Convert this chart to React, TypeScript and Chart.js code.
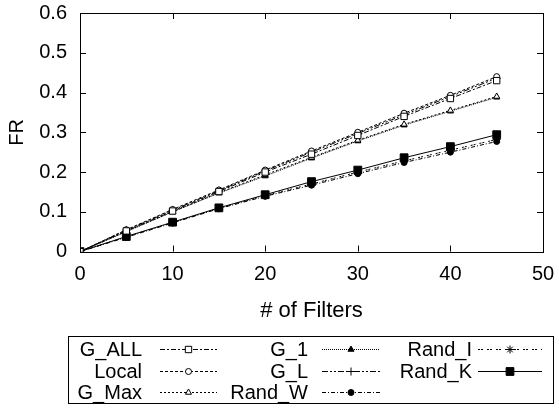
import React, { useEffect, useRef } from "react";
import { Chart, registerables } from "chart.js";
import { drawPoint } from "chart.js/helpers";

Chart.register(...registerables);

const FILTERS = [0, 5, 10, 15, 20, 25, 30, 35, 40, 45];
const G_ALL = [0, 0.052, 0.102, 0.151, 0.2, 0.245, 0.292, 0.34, 0.385, 0.43];
const LOCAL = [0, 0.055, 0.106, 0.155, 0.205, 0.253, 0.3, 0.348, 0.393, 0.44];
const G_MAX = [0, 0.051, 0.1, 0.148, 0.193, 0.237, 0.28, 0.32, 0.355, 0.39];
const G_1 = [0, 0.05, 0.1, 0.147, 0.19, 0.235, 0.278, 0.318, 0.353, 0.388];
const G_L = [0, 0.054, 0.104, 0.153, 0.203, 0.25, 0.297, 0.344, 0.39, 0.436];
const RAND_W = [0, 0.036, 0.072, 0.108, 0.139, 0.167, 0.196, 0.224, 0.25, 0.277];
const RAND_I = [0, 0.037, 0.073, 0.109, 0.141, 0.17, 0.2, 0.228, 0.255, 0.282];
const RAND_K = [0, 0.038, 0.074, 0.11, 0.143, 0.176, 0.205, 0.236, 0.264, 0.294];

const X_TICKS = [0, 10, 20, 30, 40, 50];
const Y_TICKS = [0, 0.1, 0.2, 0.3, 0.4, 0.5, 0.6];

const FONT = "'Liberation Sans', Arial, Helvetica, sans-serif";

type S = {
  label: string;
  values: number[];
  dash: number[];
  pointStyle: string;
  filled: boolean;
  radius: number;
};

const SERIES: S[] = [
  { label: "G_ALL", values: G_ALL, dash: [5, 2, 2, 2], pointStyle: "rect", filled: false, radius: 4.5 },
  { label: "Local", values: LOCAL, dash: [3, 2], pointStyle: "circle", filled: false, radius: 3 },
  { label: "G_Max", values: G_MAX, dash: [2, 2], pointStyle: "triangle", filled: false, radius: 3.5 },
  { label: "G_1", values: G_1, dash: [1, 1], pointStyle: "triangle", filled: true, radius: 3.5 },
  { label: "G_L", values: G_L, dash: [6, 2, 2, 2, 2, 2], pointStyle: "cross", filled: false, radius: 4 },
  { label: "Rand_W", values: RAND_W, dash: [4, 2, 1, 2], pointStyle: "circle", filled: true, radius: 3 },
  { label: "Rand_I", values: RAND_I, dash: [2, 1, 2, 4], pointStyle: "star", filled: false, radius: 4 },
  { label: "Rand_K", values: RAND_K, dash: [], pointStyle: "rect", filled: true, radius: 5.5 },
];

const boxPlugin = {
  id: "boxTicks",
  afterDraw(chart: any) {
    const { ctx, chartArea: a, scales } = chart;
    ctx.save();
    ctx.strokeStyle = "#000";
    ctx.lineWidth = 1;
    ctx.setLineDash([]);
    ctx.strokeRect(Math.round(a.left) + 0.5, Math.round(a.top) + 0.5, Math.round(a.right - a.left), Math.round(a.bottom - a.top));
    const L = 6;
    ctx.beginPath();
    X_TICKS.forEach((v) => {
      const x = Math.round(scales.x.getPixelForValue(v)) + 0.5;
      ctx.moveTo(x, a.bottom);
      ctx.lineTo(x, a.bottom - L);
      ctx.moveTo(x, a.top);
      ctx.lineTo(x, a.top + L);
    });
    Y_TICKS.forEach((v) => {
      const y = Math.round(scales.y.getPixelForValue(v)) + 0.5;
      ctx.moveTo(a.left, y);
      ctx.lineTo(a.left + L, y);
      ctx.moveTo(a.right, y);
      ctx.lineTo(a.right - L, y);
    });
    ctx.stroke();

    // legend
    const box = { left: 68.5, top: 336.5, right: 553.5, bottom: 403.5 };
    ctx.strokeRect(box.left, box.top, box.right - box.left, box.bottom - box.top);
    const textRight = [142, 308, 472];
    const lineStart = [160, 322, 478];
    const lineEnd = [217, 380, 542];
    const rows = [349, 371, 392];
    ctx.font = `20px ${FONT}`;
    ctx.fillStyle = "#000";
    ctx.textAlign = "right";
    ctx.textBaseline = "middle";
    SERIES.forEach((s, i) => {
      const col = Math.floor(i / 3);
      const row = i % 3;
      const y = rows[row];
      ctx.fillStyle = "#000";
      ctx.fillText(s.label, textRight[col], y + 1);
      ctx.beginPath();
      ctx.setLineDash(s.dash);
      ctx.moveTo(lineStart[col], y + 0.5);
      ctx.lineTo(lineEnd[col], y + 0.5);
      ctx.stroke();
      ctx.setLineDash([]);
      ctx.fillStyle = s.filled ? "#000" : "#fff";
      drawPoint(ctx, { pointStyle: s.pointStyle, radius: s.radius, rotation: 0, borderWidth: 1 } as any, (lineStart[col] + lineEnd[col]) / 2, y + 0.5);
    });
    ctx.restore();
  },
};

export default function App() {
  const ref = useRef<HTMLCanvasElement>(null);
  useEffect(() => {
    if (!ref.current) return;
    const chart = new Chart(ref.current, {
      type: "line",
      data: {
        datasets: SERIES.map((s) => ({
          label: s.label,
          data: FILTERS.map((x, i) => ({ x, y: s.values[i] })),
          borderColor: "#000",
          borderWidth: 1,
          borderDash: s.dash,
          pointStyle: s.pointStyle as any,
          pointRadius: s.radius,
          pointBorderColor: "#000",
          pointBackgroundColor: s.filled ? "#000" : "#fff",
          pointBorderWidth: 1,
          fill: false,
          tension: 0,
        })),
      },
      options: {
        animation: false,
        responsive: false,
        events: [],
        layout: { padding: { top: 13, right: 16, left: 0, bottom: 84 } },
        plugins: { legend: { display: false }, tooltip: { enabled: false } },
        scales: {
          x: {
            type: "linear",
            min: 0,
            max: 50,
            afterBuildTicks: (s: any) => {
              s.ticks = X_TICKS.map((v) => ({ value: v }));
            },
            afterFit: (s: any) => {
              s.paddingLeft = 0;
              s.paddingRight = 0;
            },
            grid: { display: false, drawTicks: false },
            border: { display: false },
            ticks: { color: "#000", padding: 11, font: { family: FONT, size: 20 }, maxRotation: 0 },
            title: { display: true, text: "# of Filters", color: "#000", padding: { top: 0, bottom: 0 }, font: { family: FONT, size: 22 } },
          },
          y: {
            type: "linear",
            min: 0,
            max: 0.6,
            afterBuildTicks: (s: any) => {
              s.ticks = Y_TICKS.map((v) => ({ value: v }));
            },
            afterFit: (s: any) => {
              s.width = 80;
              s.paddingTop = 0;
              s.paddingBottom = 0;
            },
            grid: { display: false, drawTicks: false },
            border: { display: false },
            ticks: { color: "#000", padding: 13, font: { family: FONT, size: 20 } },
            title: { display: true, text: "FR", color: "#000", padding: { top: 5, bottom: 0 }, font: { family: FONT, size: 20 } },
          },
        },
      },
      plugins: [boxPlugin],
    });
    return () => chart.destroy();
  }, []);
  return (
    <div style={{ position: "fixed", left: 0, top: 0, width: 559, height: 408, background: "#fff" }}>
      <canvas ref={ref} width={559} height={408} style={{ width: 559, height: 408 }} />
    </div>
  );
}
